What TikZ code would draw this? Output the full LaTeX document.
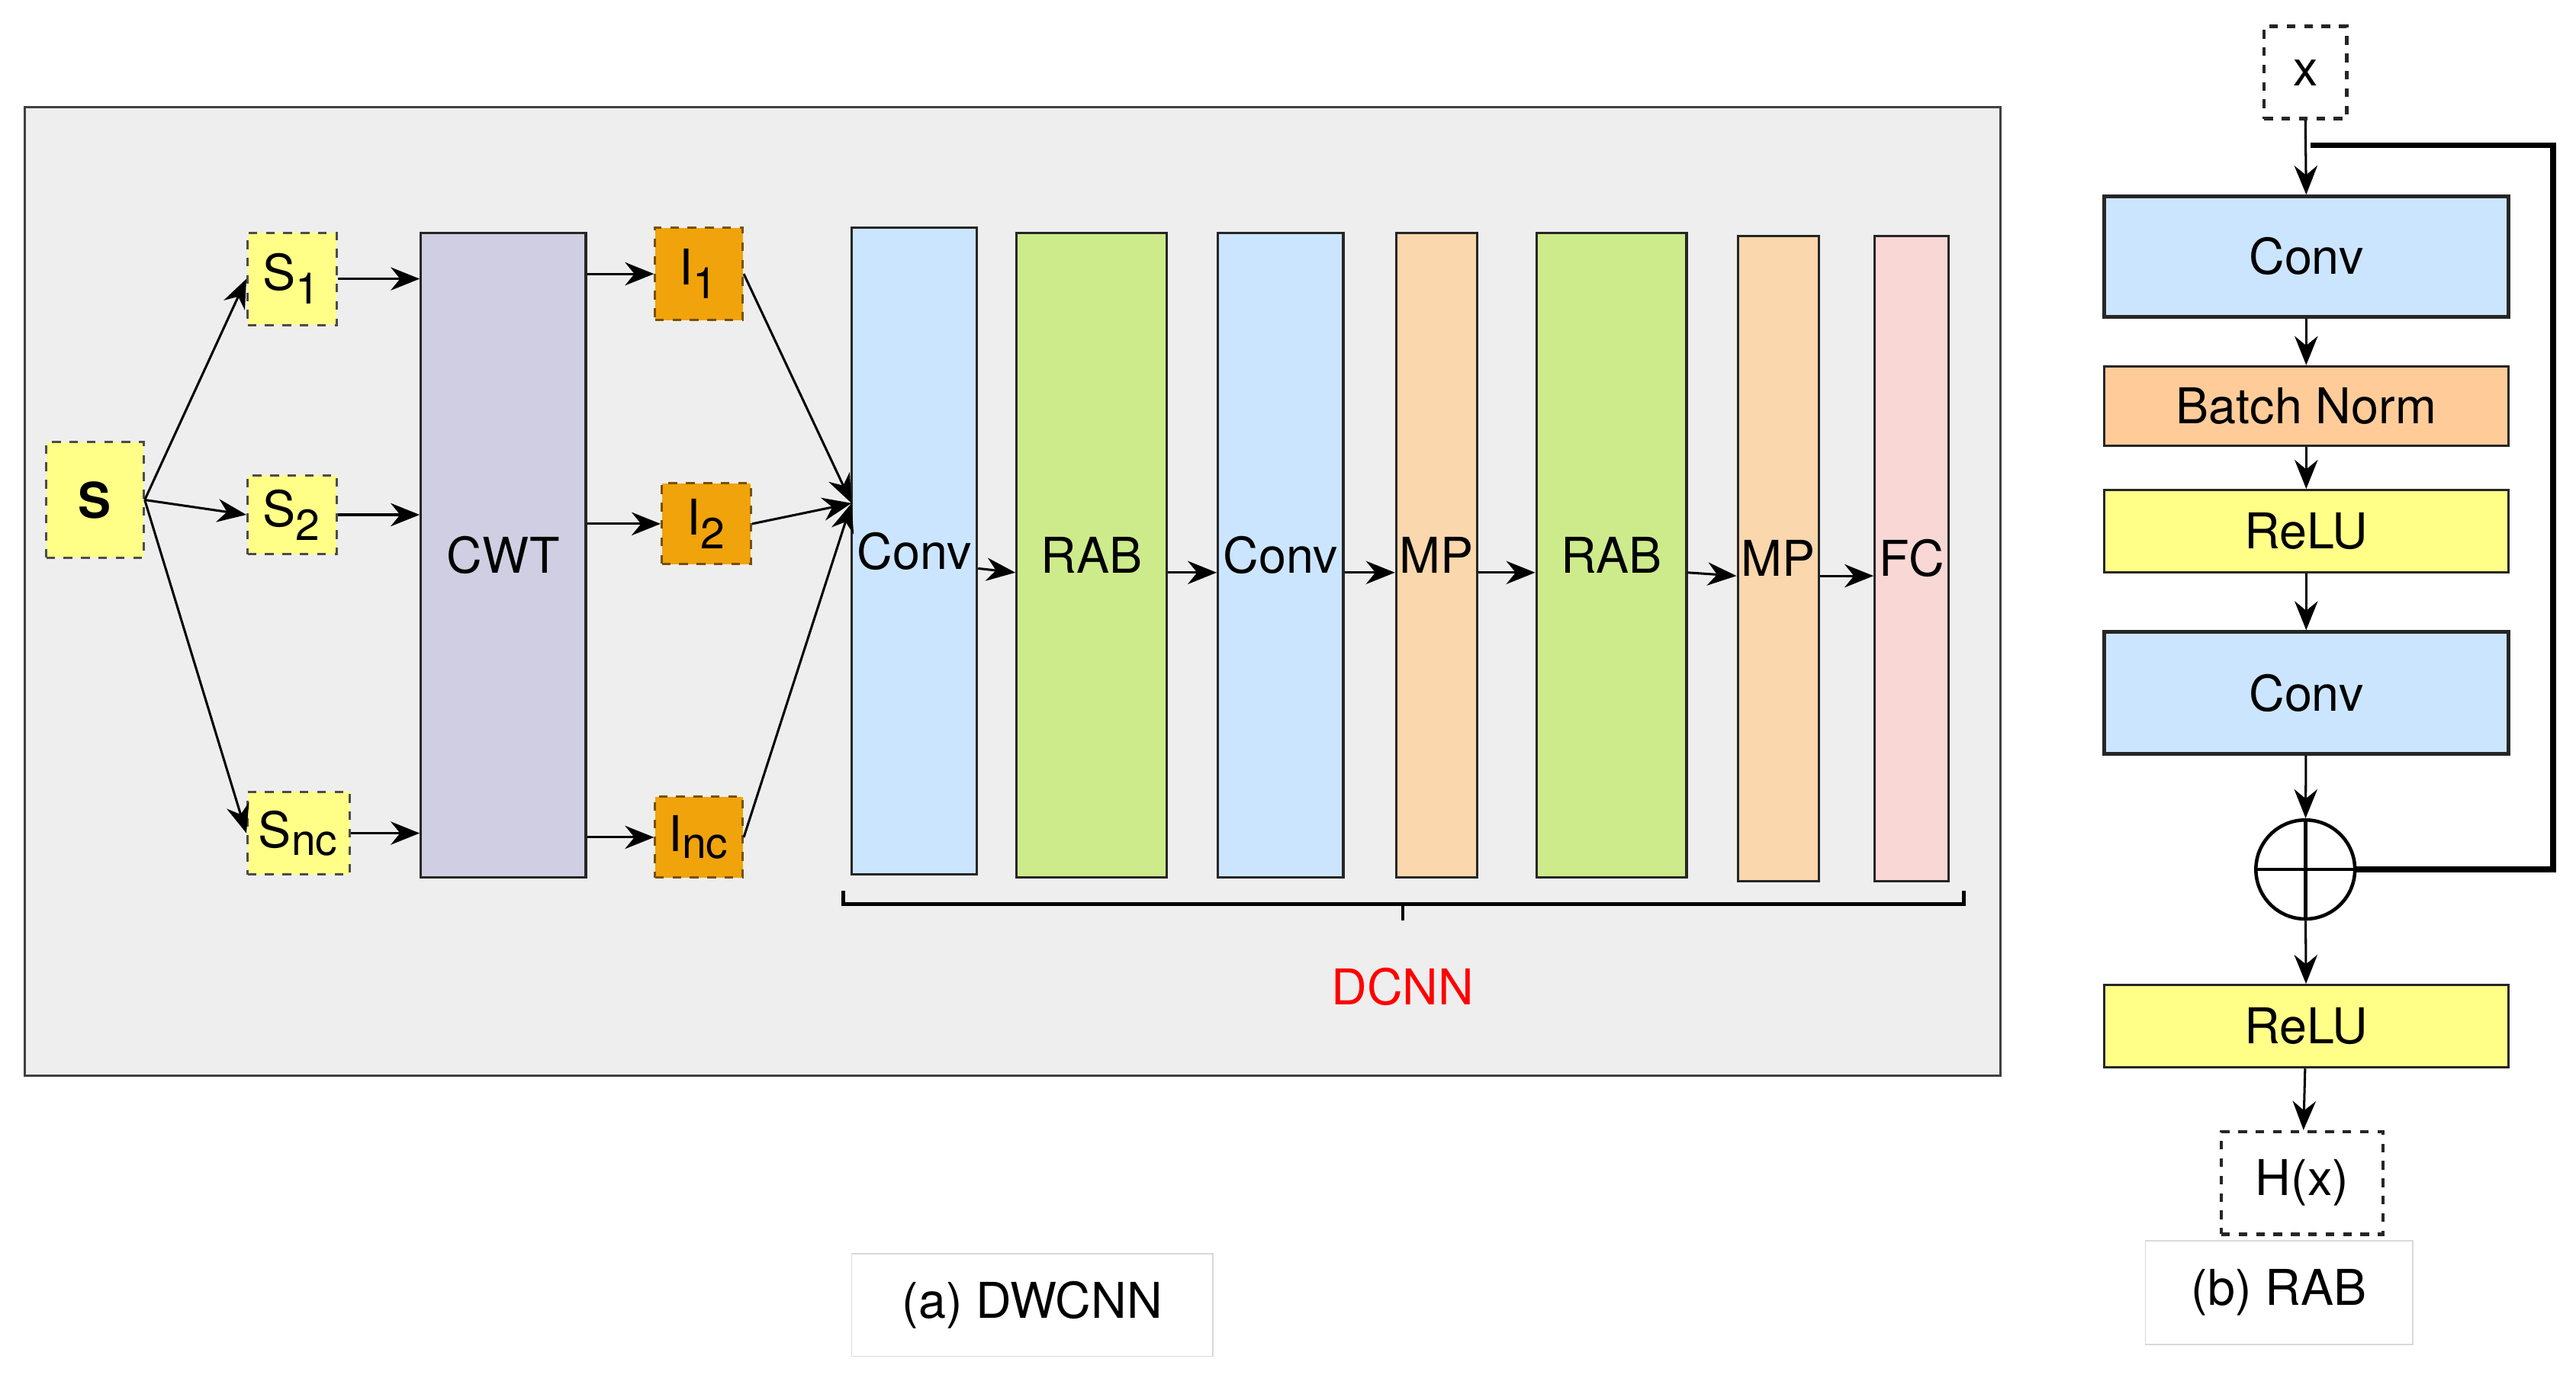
\documentclass[tikz,border=0pt]{standalone}
\usepackage{fontspec}
\setmainfont{TeX Gyre Heros}
\usetikzlibrary{fit,positioning,arrows.meta}
\definecolor{panel}{HTML}{EEEEEE}
\definecolor{sig}{HTML}{FFFF88}
\definecolor{img}{HTML}{F0A30A}
\definecolor{cwt}{HTML}{D0CEE2}
\definecolor{conv}{HTML}{CCE5FF}
\definecolor{rab}{HTML}{CDEB8B}
\definecolor{mp}{HTML}{FAD7AC}
\definecolor{fc}{HTML}{F8D7D5}
\definecolor{bn}{HTML}{FFCC99}
\newcommand{\sbx}[2]{#1\textsubscript{\fontsize{15}{18}\selectfont #2}}
\tikzset{
  blk/.style={draw=black!85, thick, inner sep=0pt},
  sig/.style={blk, fill=sig, dashed, draw=black!70},
  img/.style={blk, fill=img, dashed, draw=black!50!img},
  tag/.style={draw=black!15, fill=white, inner sep=0pt},
  arr/.style={-{Stealth[length=10pt,width=8pt]}, thick},
  every label/.style={font=\fontsize{17}{20}\selectfont}
}
\begin{document}
\begin{tikzpicture}[x=0.02cm, y=-0.02cm, font=\fontsize{17}{20}\selectfont]
  \useasboundingbox (0,0) rectangle (1561,833);
  % left panel
  \node[draw=black!75, thick, fill=panel, inner sep=0pt, fit={(15,65) (1212,652)}] (panel) {};

  \node[sig, fit={(28,268) (87,338)}, label={center:\textbf{S}}] (s) {};
  \node[sig, fit={(150,141) (204,197)}, label={center:\sbx{S}{1}}] (s1) {};
  \node[sig, fit={(150,288) (204,336)}, label={center:\sbx{S}{2}}] (s2) {};
  \node[sig, fit={(150,480) (212,530)}, label={center:\sbx{S}{nc}}] (snc) {};
  \node[blk, fill=cwt, fit={(255,141) (355,532)}, label={center:CWT}] (cwt) {};
  \node[img, fit={(397,138) (450,194)}, label={center:\sbx{I}{1}}] (i1) {};
  \node[img, fit={(401,293) (455,342)}, label={center:\sbx{I}{2}}] (i2) {};
  \node[img, fit={(397,483) (450,532)}, label={center:\sbx{I}{nc}}] (inc) {};

  \node[blk, fill=conv, fit={(516,138) (592,530)}, label={center:Conv}] (conv1) {};
  \node[blk, fill=rab, fit={(616,141) (707,532)}, label={center:RAB}] (rab1) {};
  \node[blk, fill=conv, fit={(738,141) (814,532)}, label={center:Conv}] (conv2) {};
  \node[blk, fill=mp, fit={(846,141) (895,532)}, label={center:MP}] (mp1) {};
  \node[blk, fill=rab, fit={(931,141) (1022,532)}, label={center:RAB}] (rab2) {};
  \node[blk, fill=mp, fit={(1053,143) (1102,534)}, label={center:MP}] (mp2) {};
  \node[blk, fill=fc, fit={(1136,143) (1181,534)}, label={center:FC}] (fc) {};

  \draw[arr] (s.east) -- (s1.west);
  \draw[arr] (s.east) -- (s2.west);
  \draw[arr] (s.east) -- (snc.west);
  \draw[arr] (s1.east) -- (s1.east -| cwt.west);
  \draw[arr] (s2.east) -- (s2.east -| cwt.west);
  \draw[arr] (snc.east) -- (snc.east -| cwt.west);
  \draw[arr] (i1.west -| cwt.east) -- (i1.west);
  \draw[arr] (i2.west -| cwt.east) -- (i2.west);
  \draw[arr] (inc.west -| cwt.east) -- (inc.west);
  \coordinate (cin) at (516,305);
  \draw[arr] (i1.east) -- (cin);
  \draw[arr] (i2.east) -- (cin);
  \draw[arr] (inc.east) -- (cin);
  \foreach \a/\b in {conv1/rab1, rab1/conv2, conv2/mp1, mp1/rab2, rab2/mp2, mp2/fc}
    \draw[arr] ([yshift=-6pt]\a.east) -- ([yshift=-6pt]\b.west);

  % DCNN bracket
  \coordinate (bl) at (511,540);
  \coordinate (br) at (1190,540);
  \draw[very thick] (bl) -- ++(0,8) -| (br);
  \draw[very thick] (850,548) -- (850,558);
  \node[text=red] (dcnn) at (850,598) {DCNN};

  \node[tag, fit={(516,760) (735,822)}, label={center:(a) DWCNN}] (capa) {};
  \node[tag, fit={(1300,752) (1462,815)}, label={center:(b) RAB}] (capb) {};

  % RAB block
  \node[blk, dashed, very thick, fit={(1372,16) (1422,72)}, label={center:x}] (x) {};
  \node[blk, very thick, fill=conv, fit={(1275,119) (1520,192)}, label={center:Conv}] (rconv1) {};
  \node[blk, fill=bn, fit={(1275,222) (1520,270)}, label={center:Batch Norm}] (bnorm) {};
  \node[blk, fill=sig, fit={(1275,297) (1520,347)}, label={center:ReLU}] (relu1) {};
  \node[blk, very thick, fill=conv, fit={(1275,383) (1520,457)}, label={center:Conv}] (rconv2) {};
  \node[draw, very thick, circle, minimum size=60*0.02cm, inner sep=0pt] (add) at (1397,527) {};
  \draw[very thick] (add.north) -- (add.south) (add.west) -- (add.east);
  \node[blk, fill=sig, fit={(1275,597) (1520,647)}, label={center:ReLU}] (relu2) {};
  \node[blk, dashed, very thick, fit={(1346,686) (1444,748)}, label={center:H(x)}] (hx) {};

  \draw[arr] (x.south) -- (rconv1.north);
  \draw[arr] (rconv1) -- (bnorm);
  \draw[arr] (bnorm) -- (relu1);
  \draw[arr] (relu1) -- (rconv2);
  \draw[arr] (rconv2) -- (add);
  \draw[arr] (add) -- (relu2);
  \draw[arr] (relu2) -- (hx);
  \coordinate (skip) at (1400,88);
  \draw[line width=2pt] (skip) -- (1547,88) |- (add.east);
\end{tikzpicture}
\end{document}
